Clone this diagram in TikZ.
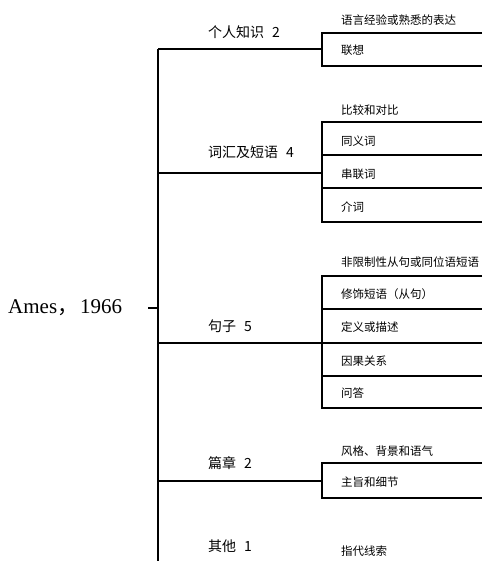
\documentclass[tikz,border=0pt]{standalone}
\usepackage{fontspec}
\setmainfont{Liberation Serif}
\newfontfamily\cjk{Noto Sans CJK SC}
\newcommand{\gp}{\hspace{8pt}}
\begin{document}
\begin{tikzpicture}[x=1pt,y=-1pt,
  ln/.style={line width=2pt},
  lone/.style={font=\cjk\fontsize{14}{16}\selectfont, anchor=west, inner sep=0pt},
  ltwo/.style={font=\cjk\fontsize{11.5}{13}\selectfont, anchor=west, inner sep=0pt}]
\useasboundingbox (0,0) rectangle (482,561);
% root
\node[anchor=west, inner sep=0pt, font=\fontsize{21}{23}\selectfont] (root) at (8,308) {Ames{\cjk ，}\hspace{2pt}1966};
\coordinate (tick) at (148,308);
\coordinate (tmid) at (158,308);
\coordinate (ttop) at (158,49);
\coordinate (tbot) at (158,561);
\draw[ln] (tick) -- (tmid);
\draw[ln] (ttop) -- (tbot);
% level-1 branch points
\coordinate (a1) at (158,49);  \coordinate (e1) at (322,49);
\coordinate (a2) at (158,173); \coordinate (e2) at (322,173);
\coordinate (a3) at (158,343); \coordinate (e3) at (322,343);
\coordinate (a4) at (158,481); \coordinate (e4) at (322,481);
\draw[ln] (a1) -- (e1);
\draw[ln] (a2) -- (e2);
\draw[ln] (a3) -- (e3);
\draw[ln] (a4) -- (e4);
% level-1 labels
\node[lone] (n1) at (208,32)  {个人知识\gp 2};
\node[lone] (n2) at (208,152) {词汇及短语\gp 4};
\node[lone] (n3) at (208,326) {句子\gp 5};
\node[lone] (n4) at (208,463) {篇章\gp 2};
\node[lone] (n5) at (208,546) {其他\gp 1};
% box 1
\coordinate (p1t) at (322,33); \coordinate (q1t) at (482,33);
\coordinate (p1b) at (322,66); \coordinate (q1b) at (482,66);
\draw[ln] (q1t) -- (p1t) -- (p1b) -- (q1b);
\node[ltwo] (t11) at (341,20) {语言经验或熟悉的表达};
\node[ltwo] (t12) at (341,50) {联想};
% box 2
\coordinate (p2a) at (322,122); \coordinate (q2a) at (482,122);
\coordinate (p2b) at (322,155); \coordinate (q2b) at (482,155);
\coordinate (p2c) at (322,188); \coordinate (q2c) at (482,188);
\coordinate (p2d) at (322,222); \coordinate (q2d) at (482,222);
\draw[ln] (q2a) -- (p2a) -- (p2d) -- (q2d);
\draw[ln] (p2b) -- (q2b);
\draw[ln] (p2c) -- (q2c);
\node[ltwo] (t21) at (341,110) {比较和对比};
\node[ltwo] (t22) at (341,141) {同义词};
\node[ltwo] (t23) at (341,174) {串联词};
\node[ltwo] (t24) at (341,207) {介词};
% box 3
\coordinate (p3a) at (322,276); \coordinate (q3a) at (482,276);
\coordinate (p3b) at (322,309); \coordinate (q3b) at (482,309);
\coordinate (p3c) at (322,343); \coordinate (q3c) at (482,343);
\coordinate (p3d) at (322,376); \coordinate (q3d) at (482,376);
\coordinate (p3e) at (322,408); \coordinate (q3e) at (482,408);
\draw[ln] (q3a) -- (p3a) -- (p3e) -- (q3e);
\draw[ln] (p3b) -- (q3b);
\draw[ln] (p3c) -- (q3c);
\draw[ln] (p3d) -- (q3d);
\node[ltwo] (t31) at (341,262) {非限制性从句或同位语短语};
\node[ltwo] (t32) at (341,294) {修饰短语（从句）};
\node[ltwo] (t33) at (341,327) {定义或描述};
\node[ltwo] (t34) at (341,361) {因果关系};
\node[ltwo] (t35) at (341,393) {问答};
% box 4
\coordinate (p4a) at (322,463); \coordinate (q4a) at (482,463);
\coordinate (p4b) at (322,498); \coordinate (q4b) at (482,498);
\draw[ln] (q4a) -- (p4a) -- (p4b) -- (q4b);
\node[ltwo] (t41) at (341,451) {风格、背景和语气};
\node[ltwo] (t42) at (341,482) {主旨和细节};
% other
\node[ltwo] (t51) at (341,551) {指代线索};
\end{tikzpicture}
\end{document}
